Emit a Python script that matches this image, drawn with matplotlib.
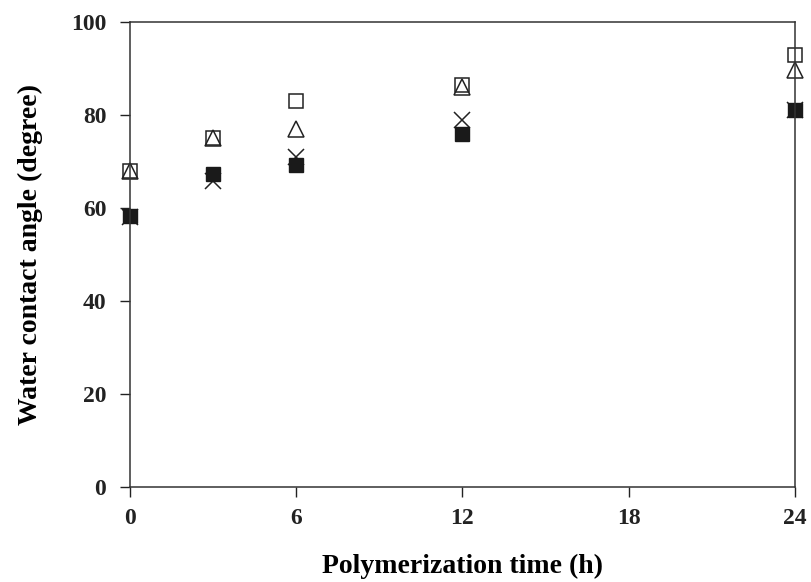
import matplotlib.pyplot as plt

# Ângulo de contato da água em função do tempo de polimerização
tempo = [0, 3, 6, 12, 24]
serie_quadrado = [68, 75, 83, 86.5, 93]
serie_triangulo = [68, 75, 77, 86, 89.7]
serie_x = [58, 65.8, 71, 79, 81]
serie_cheio = [58.3, 67.3, 69.2, 76, 81]

font_label = {"fontsize": 20, "fontweight": 'bold', "fontname": 'Liberation Serif'}
font_tick = {"size": 17, "weight": 'bold', "family": 'Liberation Serif'}

fig = plt.figure(figsize=(8.12, 5.82), dpi=100)
ax = fig.add_axes([0.160, 0.163, 0.819, 0.799])

ax.plot(tempo, serie_x, linestyle='none', marker='x', markersize=11, markeredgewidth=1.1, color='#222222')
ax.plot(tempo, serie_cheio, linestyle='none', marker='s', markersize=10, color='#1a1a1a')
ax.plot(tempo, serie_quadrado, linestyle='none', marker='s', markersize=10, markerfacecolor='none', markeredgewidth=1.1, markeredgecolor='#222222')
ax.plot(tempo, serie_triangulo, linestyle='none', marker='^', markersize=12, markerfacecolor='none', markeredgewidth=1.1, markeredgecolor='#222222')

ax.set_xlim(0, 24)
ax.set_ylim(0, 100)
ax.set_xticks([0, 6, 12, 18, 24])
ax.set_yticks([0, 20, 40, 60, 80, 100])
for lbl in ax.get_xticklabels() + ax.get_yticklabels():
    lbl.set_fontproperties(font_tick)
ax.tick_params(direction='out', length=7, width=1, colors='#222222', pad=10)
ax.tick_params(axis='x', pad=8)
for s in ax.spines.values():
    s.set_linewidth(1.1)
    s.set_color('#333333')

ax.set_xlabel("Polymerization time (h)", fontdict=font_label, labelpad=18)
ax.set_ylabel("Water contact angle (degree)", fontdict=font_label, labelpad=20)
ax.patch.set_facecolor('white')
for line in ax.lines:
    line.set_clip_on(False)

plt.savefig("out.png")
plt.close()
